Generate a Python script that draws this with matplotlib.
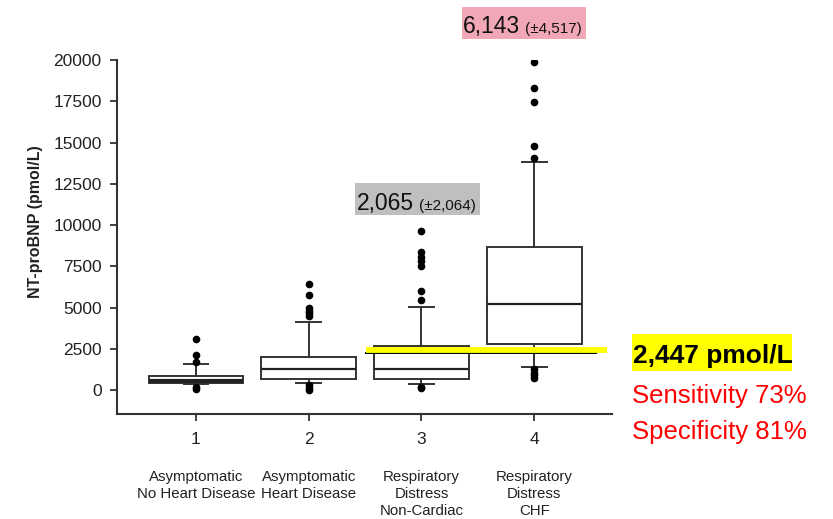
import matplotlib
matplotlib.use("Agg")
import matplotlib.pyplot as plt
from matplotlib import font_manager
from matplotlib.patches import Rectangle

# box plot summaries (pmol/L)
positions = [1, 2, 3, 4]
categories = ["Asymptomatic\nNo Heart Disease", "Asymptomatic\nHeart Disease",
              "Respiratory\nDistress\nNon-Cardiac", "Respiratory\nDistress\nCHF"]
q1 = [440, 670, 650, 2770]
medians = [545, 1270, 1250, 5210]
q3 = [850, 2020, 2680, 8670]
whisker_lo = [340, 440, 360, 1410]
whisker_hi = [1560, 4140, 5030, 13840]
outliers = [
    [3110, 2100, 1720, 200, 60],
    [6420, 5760, 4950, 4800, 4650, 4500, 300, 150, 0],
    [9650, 8350, 8050, 7800, 7500, 6020, 5450, 200, 100],
    [19900, 18320, 17470, 14800, 14040, 1250, 1050, 900, 750],
]
y_ticks = [0, 2500, 5000, 7500, 10000, 12500, 15000, 17500, 20000]
cutoff = 2447
cutoff_drawn = 2220
sensitivity = 73
specificity = 81
mean_group3, sd_group3 = 2065, 2064
mean_group4, sd_group4 = 6143, 4517

plt.rcParams['font.family'] = ['Liberation Sans', 'DejaVu Sans']

try:
    font_manager.findfont("Liberation Sans Narrow", fallback_to_default=False)
    narrow = ["Liberation Sans Narrow", "Liberation Sans", "DejaVu Sans"]
except Exception:
    narrow = ["Liberation Sans", "DejaVu Sans"]

W, H = 833, 519
fig = plt.figure(figsize=(W / 100, H / 100), dpi=100)
ax = fig.add_axes([117 / W, 1 - 414 / H, (612 - 117) / W, (414 - 60) / H])

stats = []
for i in range(len(positions)):
    stats.append(dict(med=medians[i], q1=q1[i], q3=q3[i],
                      whislo=whisker_lo[i], whishi=whisker_hi[i],
                      fliers=outliers[i]))

edge = "#333333"
bp = ax.bxp(stats, positions=positions, widths=0.84, capwidths=0.22,
            patch_artist=True,
            boxprops=dict(facecolor="white", edgecolor=edge, linewidth=1.4),
            medianprops=dict(color="#222222", linewidth=1.6),
            whiskerprops=dict(color=edge, linewidth=1.4),
            capprops=dict(color=edge, linewidth=1.4),
            flierprops=dict(marker="o", markerfacecolor="black",
                            markeredgecolor="black", markersize=4.5))
bp["medians"][0].set_linewidth(3)

# cutoff line (yellow highlight with a black rule just under it)
ax.plot([2.51, 4.55], [cutoff_drawn, cutoff_drawn], color="black", lw=1.4, zorder=5)
ax.plot([2.51, 4.65], [cutoff, cutoff], color="#FFFF00", lw=4.2, zorder=6,
        solid_capstyle="butt")

ax.set_xlim(0.30, 4.69)
ax.set_ylim(-1450, 20000)
ax.set_yticks(y_ticks)
ax.set_xticks(positions)
ax.set_xticklabels([str(p) for p in positions])
for s in ["top", "right"]:
    ax.spines[s].set_visible(False)
for s in ["left", "bottom"]:
    ax.spines[s].set_color(edge)
    ax.spines[s].set_linewidth(1.5)
ax.tick_params(axis="both", length=5, width=1.3, color=edge,
               labelsize=12.5, labelcolor="#222222")
ax.tick_params(axis="y", pad=6)
ax.tick_params(axis="x", pad=8)

fig.text(36 / W, 1 - 222 / H, "NT-proBNP (pmol/L)", rotation=90,
         fontsize=11.5, fontweight="bold", ha="center", va="center",
         color="#222222")

for p, cat in zip(positions, categories):
    ax.text(p, -0.158, cat, transform=ax.get_xaxis_transform(),
            ha="center", va="top", fontsize=10.8, linespacing=1.28,
            color="#222222")

def px(x, y):
    return x / W, 1 - y / H

# mean (SD) labels
fig.patches.append(Rectangle(px(355, 215), 125 / W, 32 / H,
                             transform=fig.transFigure, facecolor="#BFBFBF",
                             edgecolor="none"))
fig.text(*px(357, 210), f"{mean_group3:,}", family=narrow, fontsize=16.5,
         va="baseline", ha="left", color="#111111")
fig.text(*px(419, 210), f"(\u00b1{sd_group3:,})", family=narrow, fontsize=11,
         va="baseline", ha="left", color="#111111")

fig.patches.append(Rectangle(px(462, 39), 124 / W, 32 / H,
                             transform=fig.transFigure, facecolor="#F2A7B6",
                             edgecolor="none"))
fig.text(*px(463, 33), f"{mean_group4:,}", family=narrow, fontsize=16.5,
         va="baseline", ha="left", color="#111111")
fig.text(*px(525, 33), f"(\u00b1{sd_group4:,})", family=narrow, fontsize=11,
         va="baseline", ha="left", color="#111111")

# cutoff annotation
fig.patches.append(Rectangle(px(632, 371), 160 / W, 37 / H,
                             transform=fig.transFigure, facecolor="#FFFF00",
                             edgecolor="none"))
fig.text(*px(633, 363), f"{cutoff:,} pmol/L", family=narrow, fontsize=19,
         fontweight="bold", va="baseline", ha="left", color="black")
fig.text(*px(632, 403), f"Sensitivity {sensitivity}%", family=narrow,
         fontsize=18.5, va="baseline", ha="left", color="#FF0000")
fig.text(*px(632, 439), f"Specificity {specificity}%", family=narrow,
         fontsize=18.5, va="baseline", ha="left", color="#FF0000")

fig.savefig("out.png", dpi=100)
